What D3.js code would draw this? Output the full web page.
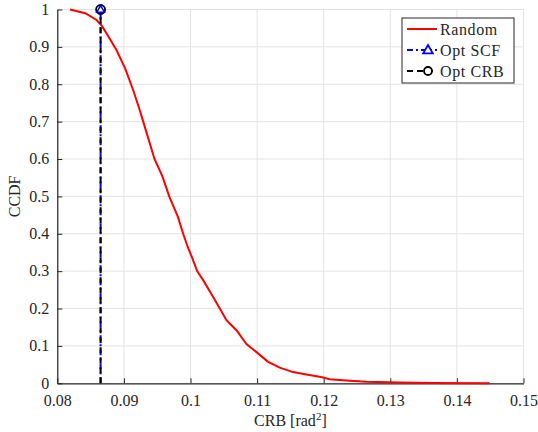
<!DOCTYPE html>
<html>
<head>
<meta charset="utf-8">
<script src="https://cdn.jsdelivr.net/npm/d3@7"></script>
<style>
  body { margin: 0; background: #fff; }
  text { font-family: "Liberation Serif", "DejaVu Serif", serif; fill: #262626; }
</style>
</head>
<body>
<svg id="chart" width="538" height="432"></svg>
<script>
// CRB values of the random configurations and their CCDF
const crbRandom = [0.0819, 0.0842, 0.0859, 0.0867, 0.0877, 0.0889, 0.0902, 0.0914, 0.0924, 0.0929,
  0.0946, 0.0958, 0.0968, 0.0981, 0.0989, 0.0996, 0.1002, 0.1010, 0.1019, 0.1034, 0.1044, 0.1054,
  0.1069, 0.1084, 0.1100, 0.1116, 0.1134, 0.1154, 0.1176, 0.1196, 0.1209, 0.1239, 0.1264, 0.1314,
  0.1364, 0.1449];
const ccdfRandom = [1.0, 0.990, 0.972, 0.956, 0.927, 0.891, 0.842, 0.784, 0.730, 0.700,
  0.600, 0.553, 0.500, 0.446, 0.400, 0.364, 0.338, 0.300, 0.276, 0.231, 0.200, 0.169,
  0.142, 0.105, 0.082, 0.058, 0.042, 0.030, 0.023, 0.017, 0.011, 0.007, 0.004, 0.002,
  0.001, 0.0];

// optimised designs: single CRB value each (CCDF steps 1 -> 0)
const crbOptSCF = [0.0865, 0.0865];
const crbOptCRB = [0.0865, 0.0865];
const ccdfOpt = [0, 1];

const xTicks = [0.08, 0.09, 0.1, 0.11, 0.12, 0.13, 0.14, 0.15];
const yTicks = [0, 0.1, 0.2, 0.3, 0.4, 0.5, 0.6, 0.7, 0.8, 0.9, 1];
const legendLabels = ["Random", "Opt SCF", "Opt CRB"];

const svg = d3.select("#chart");
const mLeft = 57.3, mRight = 523.5, mTop = 9.5, mBottom = 383.3;

const xScale = d3.scaleLinear().domain([0.08, 0.15]).range([mLeft, mRight]);
const yScale = d3.scaleLinear().domain([0, 1]).range([mBottom, mTop]);

// grid
svg.append("g")
  .selectAll("line")
  .data(xTicks)
  .enter()
  .append("line")
  .attr("x1", d => xScale(d)).attr("x2", d => xScale(d))
  .attr("y1", mTop).attr("y2", mBottom)
  .style("stroke", "#e3e3e3").style("stroke-width", 1);
svg.append("g")
  .selectAll("line")
  .data(yTicks)
  .enter()
  .append("line")
  .attr("x1", mLeft).attr("x2", mRight)
  .attr("y1", d => yScale(d)).attr("y2", d => yScale(d))
  .style("stroke", "#e3e3e3").style("stroke-width", 1);

// axes (ticks point inward, matlab style)
const xAxis = d3.axisBottom(xScale).tickValues(xTicks).tickSizeInner(-5).tickSizeOuter(0)
  .tickFormat(d3.format("~g")).tickPadding(11);
const yAxis = d3.axisLeft(yScale).tickValues(yTicks).tickSizeInner(-5).tickSizeOuter(0)
  .tickFormat(d3.format("~g")).tickPadding(8);

const gx = svg.append("g").attr("transform", `translate(0,${mBottom})`).call(xAxis);
const gy = svg.append("g").attr("transform", `translate(${mLeft},0)`).call(yAxis);
[gx, gy].forEach(g => {
  g.select(".domain").style("stroke", "#262626").style("stroke-width", 1.2);
  g.selectAll(".tick line").style("stroke", "#262626");
  g.selectAll(".tick text").style("font-size", "16px")
    .style("font-family", "'Liberation Serif', serif").attr("fill", "#262626");
});
gy.selectAll(".tick text").attr("dy", "0.3em");

// red CCDF curve
const line = d3.line().x(d => xScale(d[0])).y(d => yScale(d[1]));
svg.append("path")
  .datum(d3.zip(crbRandom, ccdfRandom))
  .attr("d", line)
  .style("fill", "none").style("stroke", "#ff0000").style("stroke-width", 2);

// Opt SCF (blue dash-dot) and Opt CRB (black dashed)
svg.append("path")
  .datum(d3.zip(crbOptSCF, ccdfOpt))
  .attr("d", line)
  .style("fill", "none").style("stroke", "#0000ff").style("stroke-width", 2)
  .style("stroke-dasharray", "6,3,2,3");
svg.append("path")
  .datum(d3.zip(crbOptCRB, ccdfOpt))
  .attr("d", line)
  .style("fill", "none").style("stroke", "#000").style("stroke-width", 2)
  .style("stroke-dasharray", "6,4");

// markers at the top
svg.append("circle")
  .attr("cx", xScale(crbOptCRB[1])).attr("cy", yScale(ccdfOpt[1])).attr("r", 4.5)
  .style("fill", "#fff").style("stroke", "#000").style("stroke-width", 1.8);
svg.append("path")
  .attr("d", d3.symbol().type(d3.symbolTriangle).size(26)())
  .attr("transform", `translate(${xScale(crbOptSCF[1])},${yScale(ccdfOpt[1]) + 0.5})`)
  .style("fill", "none").style("stroke", "#0000ff").style("stroke-width", 1.5);

// legend
const legend = svg.append("g").attr("transform", "translate(402,18)");
legend.append("rect").attr("width", 112).attr("height", 65)
  .style("fill", "#fff").style("stroke", "#262626").style("stroke-width", 1);
const rows = legend.selectAll(".row")
  .data(legendLabels)
  .enter()
  .append("g")
  .attr("class", "row")
  .attr("transform", (d, i) => `translate(0,${11 + i * 21})`);
rows.append("line")
  .attr("x1", 5).attr("x2", 35).attr("y1", 0).attr("y2", 0)
  .style("stroke", (d, i) => ["#ff0000", "#0000ff", "#000"][i])
  .style("stroke-width", 2)
  .style("stroke-dasharray", (d, i) => [null, "6,3,2,3", "6,4"][i]);
rows.filter((d, i) => i === 1).append("path")
  .attr("d", d3.symbol().type(d3.symbolTriangle).size(40)())
  .attr("transform", "translate(26,0.5)")
  .style("fill", "#fff").style("stroke", "#0000ff").style("stroke-width", 1.8);
rows.filter((d, i) => i === 2).append("circle")
  .attr("cx", 26).attr("cy", 0).attr("r", 4)
  .style("fill", "#fff").style("stroke", "#000").style("stroke-width", 1.8);
rows.append("text")
  .attr("x", 38).attr("y", 0).attr("dy", "0.35em")
  .style("font-size", "16px").style("letter-spacing", "0.6px")
  .text(d => d);

// axis labels
svg.append("text")
  .attr("x", (mLeft + mRight) / 2).attr("y", 426)
  .attr("text-anchor", "middle")
  .style("font-size", "16px")
  .text("CRB [rad")
  .call(t => {
    t.append("tspan").attr("dy", -6).style("font-size", "11px").text("2");
    t.append("tspan").attr("dy", 6).text("]");
  });
svg.append("text")
  .attr("transform", `translate(20,${(mTop + mBottom) / 2}) rotate(-90)`)
  .attr("text-anchor", "middle")
  .style("font-size", "16px")
  .text("CCDF");
</script>
</body>
</html>
